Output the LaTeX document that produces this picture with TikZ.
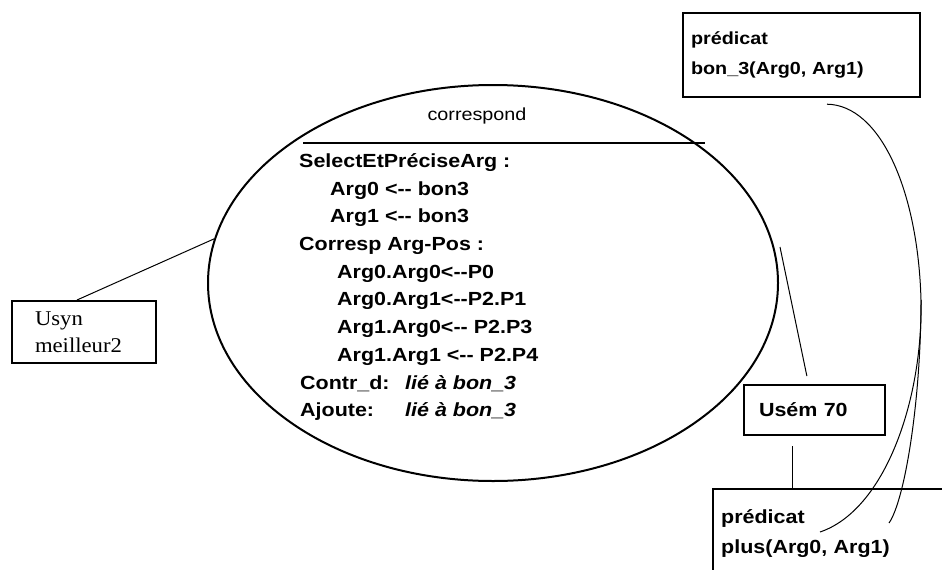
\documentclass[tikz,border=0pt]{standalone}
\usepackage{fontspec}
\usetikzlibrary{shapes.geometric}
\newfontfamily\arialish{Liberation Sans}[FakeStretch=1.13]
\newfontfamily\timesish{Liberation Serif}[FakeStretch=1.08]

\begin{document}
\begin{tikzpicture}[x=1pt,y=-1pt,
  box/.style={draw,line width=2.4pt,rectangle,align=left,inner ysep=0pt},
  boldtext/.style={font=\arialish\bfseries\fontsize{19}{30}\selectfont},
  link/.style={line width=1pt},
  txt/.style={anchor=base west,inner sep=0pt,boldtext},
]
\useasboundingbox (0,0) rectangle (942,570);
\clip (0,0) rectangle (942,570);

% the relation "correspond" as an ellipse
\node[draw,ellipse,line width=2pt,minimum width=570pt,minimum height=396pt,inner sep=0pt] (ell) at (493,283) {};
\node[inner sep=0pt,font=\arialish\fontsize{17.5}{20}\selectfont] (corr) at (477,116) {correspond};
\coordinate (barL) at ([shift={(-190,-140)}]ell.center);
\coordinate (barR) at ([shift={(212,-140)}]ell.center);
\draw[line width=2pt] (barL) -- (barR);

% contents of the relation
\node[txt] (l1) at (299,167) {SelectEtPréciseArg :};
\node[txt] (l2) at (330,195) {Arg0 <-{}- bon3};
\node[txt] (l3) at (330,222) {Arg1 <-{}- bon3};
\node[txt] (l4) at (299,250) {Corresp Arg-Pos :};
\node[txt] (l5) at (337,278) {Arg0.Arg0<-{}-P0};
\node[txt] (l6) at (337,305) {Arg0.Arg1<-{}-P2.P1};
\node[txt] (l7) at (337,333) {Arg1.Arg0<-{}- P2.P3};
\node[txt] (l8) at (337,361) {Arg1.Arg1 <-{}- P2.P4};
\node[txt] (l9) at (300,389) {\makebox[105pt][l]{Contr\_d:}\textit{lié à bon\_3}};
\node[txt] (l10) at (300,416) {\makebox[105pt][l]{Ajoute:}\textit{lié à bon\_3}};

% boxes
\node[box,font=\arialish\bfseries\fontsize{17.5}{30}\selectfont,text width=221pt,inner xsep=8pt,minimum height=84pt] (bon3) at (801.5,55) {prédicat\\bon\_3(Arg0, Arg1)};
\node[box,boldtext,text width=232pt,inner xsep=8pt,minimum height=88pt,anchor=north west] (plus) at (712,488) {prédicat\\plus(Arg0, Arg1)};
\node[box,font=\timesish\fontsize{21}{27}\selectfont,line width=2pt,text width=98pt,inner xsep=23pt,minimum height=62pt] (usyn) at (84,332) {Usyn\\meilleur2};
\node[box,boldtext,line width=2.2pt,text width=111pt,inner xsep=15pt,minimum height=50pt] (usem) at (814.5,410) {Usém 70};

% connectors
\draw[link] ([xshift=-7pt]usyn.north) -- (ell.171.6);
\coordinate (semtip) at (780,247);
\draw[link,shorten <=8pt] ([xshift=-6pt]usem.north) -- (semtip);
\draw[link,shorten <=10pt] ([xshift=-22.5pt]usem.south) -- ([xshift=-22.5pt]usem.south |- plus.north);
\coordinate (predA) at (820,532);
\coordinate (predB) at (889,523);
\draw[link] ([shift={(25.5,6)}]bon3.south) .. controls (880,105) and (918,190) .. (921,300) coordinate (fork)
  .. controls (923,400) and (885,510) .. (predA);
\draw[link] (fork) .. controls (921,400) and (905,500) .. (predB);
\end{tikzpicture}
\end{document}
